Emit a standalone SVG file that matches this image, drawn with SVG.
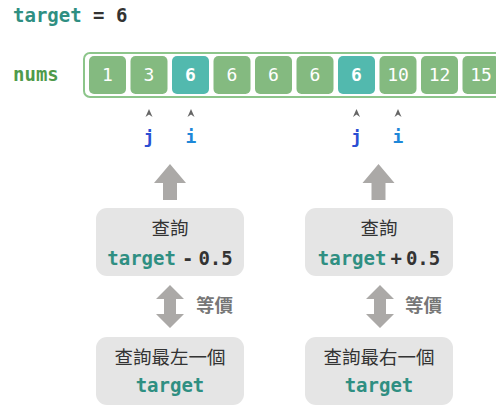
<svg xmlns="http://www.w3.org/2000/svg" width="496" height="406" viewBox="0 0 496 406">
<style>
.mono{font-family:"DejaVu Sans Mono","Liberation Mono",monospace;font-weight:bold}
.cell{fill:#84ba80}
.hit{fill:#52b9ae}
.num{font-family:"DejaVu Sans Mono","Liberation Mono",monospace;font-size:18px;fill:#fff;text-anchor:middle}
.box{fill:#e5e5e5}
.cjk{font-family:"Noto Sans CJK TC","Noto Sans CJK SC",sans-serif;font-size:18.5px;fill:#333;text-anchor:middle}
.tg{fill:#2f8f82}
.arr{fill:#aba9a7}
.ptr{fill:#666}
</style>
<g id="title">
<text x="13" y="22" class="mono" font-size="19"><tspan class="tg">target</tspan><tspan fill="#333"> = 6</tspan></text>
</g>
<g id="nums">
<text x="13" y="81" class="mono" font-size="19" fill="#4f9a4b">nums</text>
<rect x="84" y="53" width="440" height="44" rx="6" fill="#fff" stroke="#8cc58a" stroke-width="2"/>
<rect class="cell" x="89" y="56" width="37" height="38" rx="5"/><text class="num" x="107.5" y="81">1</text>
<rect class="cell" x="130.5" y="56" width="37" height="38" rx="5"/><text class="num" x="149" y="81">3</text>
<rect class="hit" x="172" y="56" width="37" height="38" rx="5"/><text class="num" x="190.5" y="81" font-weight="bold">6</text>
<rect class="cell" x="213.5" y="56" width="37" height="38" rx="5"/><text class="num" x="232" y="81">6</text>
<rect class="cell" x="255" y="56" width="37" height="38" rx="5"/><text class="num" x="273.5" y="81">6</text>
<rect class="cell" x="296.5" y="56" width="37" height="38" rx="5"/><text class="num" x="315" y="81">6</text>
<rect class="hit" x="338" y="56" width="37" height="38" rx="5"/><text class="num" x="356.5" y="81" font-weight="bold">6</text>
<rect class="cell" x="379.5" y="56" width="37" height="38" rx="5"/><text class="num" x="398" y="81">10</text>
<rect class="cell" x="421" y="56" width="37" height="38" rx="5"/><text class="num" x="439.5" y="81">12</text>
<rect class="cell" x="462.5" y="56" width="37" height="38" rx="5"/><text class="num" x="481" y="81">15</text>
</g>
<g id="pointers">
<path class="ptr" d="M145.5 117 L149 109 L152.5 117 L149 114.5 Z"/>
<path class="ptr" d="M187.5 117 L191 109 L194.5 117 L191 114.5 Z"/>
<path class="ptr" d="M353 117 L356.5 109 L360 117 L356.5 114.5 Z"/>
<path class="ptr" d="M394.5 117 L398 109 L401.5 117 L398 114.5 Z"/>
<text x="149" y="143" class="mono" font-size="18" fill="#2b4fd3" text-anchor="middle">j</text>
<text x="191" y="143" class="mono" font-size="18" fill="#1e88d8" text-anchor="middle">i</text>
<text x="356.5" y="143" class="mono" font-size="18" fill="#2b4fd3" text-anchor="middle">j</text>
<text x="398" y="143" class="mono" font-size="18" fill="#1e88d8" text-anchor="middle">i</text>
</g>
<g id="connectors">
<path class="arr" d="M170 164 L186 183 L177 183 L177 200 L163 200 L163 183 L154 183 Z"/>
<path class="arr" d="M378.5 164 L394.5 183 L385.5 183 L385.5 200 L371.5 200 L371.5 183 L362.5 183 Z"/>
<path class="arr" d="M170 285 L184 299 L176 299 L176 314 L184 314 L170 328 L156 314 L164 314 L164 299 L156 299 Z"/>
<path class="arr" d="M380 285 L394 299 L386 299 L386 314 L394 314 L380 328 L366 314 L374 314 L374 299 L366 299 Z"/>
<text x="196" y="312" font-family="Noto Sans CJK TC,sans-serif" font-size="18.5" font-weight="bold" fill="#777">等價</text>
<text x="405" y="312" font-family="Noto Sans CJK TC,sans-serif" font-size="18.5" font-weight="bold" fill="#777">等價</text>
</g>
<g id="query-left">
<rect class="box" x="96" y="208" width="148" height="68" rx="11"/>
<text class="cjk" x="170" y="235">查詢</text>
<text x="170" y="265" class="mono" font-size="19" text-anchor="middle"><tspan class="tg">target</tspan><tspan fill="#333" dx="6">-</tspan><tspan fill="#333" dx="5">0.5</tspan></text>
</g>
<g id="query-right">
<rect class="box" x="305" y="208" width="148" height="68" rx="11"/>
<text class="cjk" x="379" y="235">查詢</text>
<text x="379" y="265" class="mono" font-size="19" text-anchor="middle"><tspan class="tg">target</tspan><tspan fill="#333" dx="4">+</tspan><tspan fill="#333" dx="4">0.5</tspan></text>
</g>
<g id="leftmost">
<rect class="box" x="96" y="337" width="148" height="68" rx="11"/>
<text class="cjk" x="170" y="364">查詢最左一個</text>
<text x="170" y="392" class="mono tg" font-size="19" text-anchor="middle">target</text>
</g>
<g id="rightmost">
<rect class="box" x="305" y="337" width="148" height="68" rx="11"/>
<text class="cjk" x="379" y="364">查詢最右一個</text>
<text x="379" y="392" class="mono tg" font-size="19" text-anchor="middle">target</text>
</g>
</svg>
